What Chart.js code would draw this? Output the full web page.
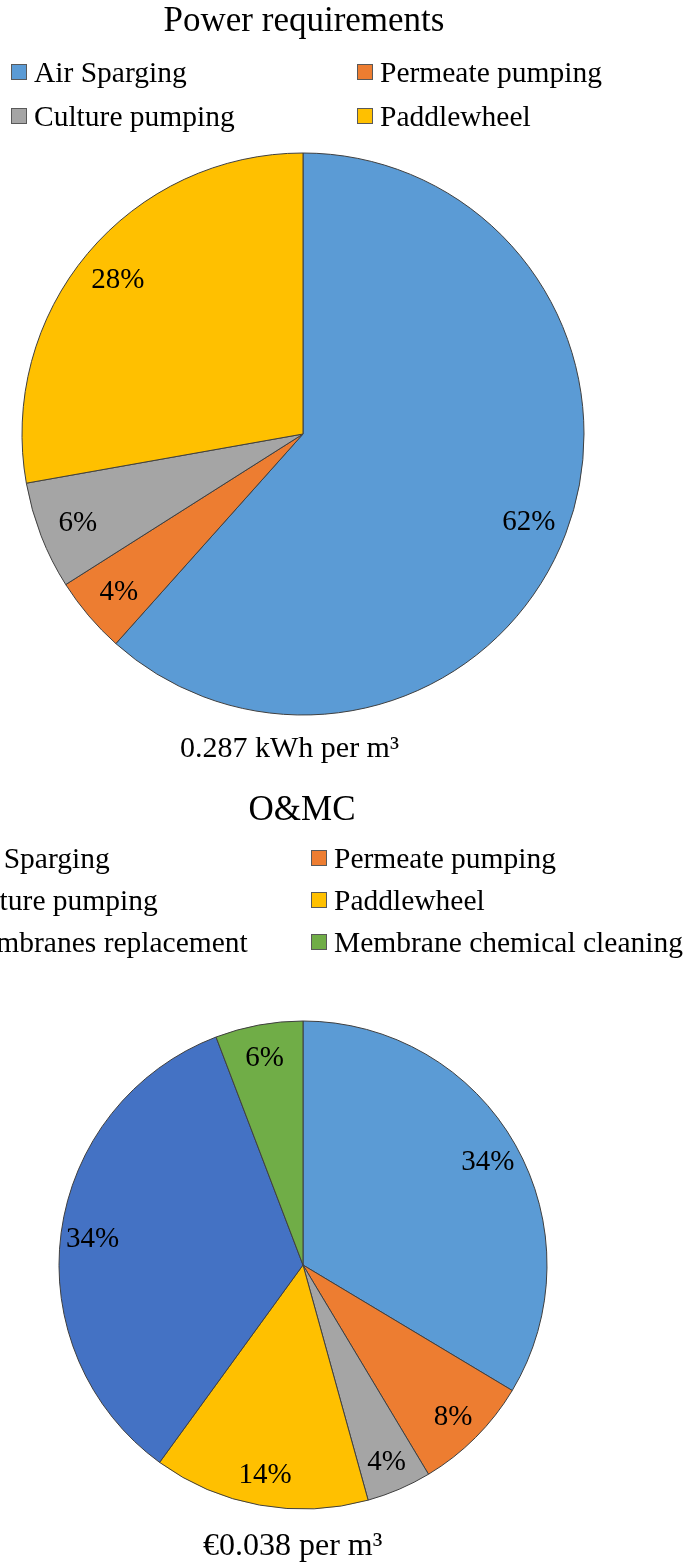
<!DOCTYPE html>
<html><head><meta charset="utf-8">
<script src="https://cdn.jsdelivr.net/npm/chart.js@4"></script>
<style>
html,body{margin:0;padding:0;background:#fff;overflow:hidden;width:693px;height:1565px}
.wrap{position:absolute;left:0;width:693px}
</style></head><body>
<div class="wrap" style="top:0;height:780px"><canvas id="c1" width="693" height="780"></canvas></div>
<div class="wrap" style="top:780px;height:785px"><canvas id="c2" width="693" height="785"></canvas></div>
<script>
// ---- data ----
const powerTitle = 'Power requirements';
const powerSubtitle = '0.287 kWh per m\u00B3';
const powerLabels = ['Air Sparging', 'Permeate pumping', 'Culture pumping', 'Paddlewheel'];
const powerValues = [61.6, 4.4, 6.2, 27.8];
const powerColors = ['#5B9BD5', '#ED7D31', '#A5A5A5', '#FFC000'];

const omcTitle = 'O&MC';
const omcSubtitle = '\u20AC0.038 per m\u00B3';
const omcLabels = ['Air Sparging', 'Permeate pumping', 'Culture pumping', 'Paddlewheel', 'Membranes replacement', 'Membrane chemical cleaning'];
const omcValues = [33.6, 7.8, 4.3, 14.3, 34.2, 5.8];
const omcColors = ['#5B9BD5', '#ED7D31', '#A5A5A5', '#FFC000', '#4472C4', '#70AD47'];

const FONT = '"Liberation Serif", "Times New Roman", serif';

function makeChart(id, labels, values, colors, cfg) {
  const deco = {
    id: 'deco' + id,
    afterDatasetsDraw(chart) {
      const ctx = chart.ctx;
      const meta = chart.getDatasetMeta(0);
      const total = values.reduce((a, b) => a + b, 0);
      ctx.save();
      ctx.fillStyle = '#000';
      ctx.font = cfg.labelSize + 'px ' + FONT;
      ctx.textAlign = 'center';
      ctx.textBaseline = 'middle';
      meta.data.forEach((arc, i) => {
        const p = arc.getProps(['x', 'y', 'startAngle', 'endAngle', 'outerRadius'], true);
        const mid = (p.startAngle + p.endAngle) / 2;
        const r = p.outerRadius * cfg.labelFactor;
        const txt = Math.round(values[i] / total * 100) + '%';
        ctx.fillText(txt, p.x + Math.cos(mid) * r, p.y + Math.sin(mid) * r + 2);
      });
      ctx.restore();
    },
    afterDraw(chart) {
      const ctx = chart.ctx;
      ctx.save();
      ctx.fillStyle = '#000';
      ctx.textBaseline = 'alphabetic';
      // title
      ctx.font = cfg.titleSize + 'px ' + FONT;
      ctx.textAlign = 'center';
      ctx.fillText(cfg.title, cfg.titleX, cfg.titleY);
      // subtitle
      ctx.font = cfg.subSize + 'px ' + FONT;
      ctx.textAlign = 'left';
      ctx.fillText(cfg.subtitle, cfg.subX, cfg.subY);
      // legend (2 columns, row-wise)
      ctx.font = cfg.legendSize + 'px ' + FONT;
      labels.forEach((lab, i) => {
        const col = i % 2, row = Math.floor(i / 2);
        const mx = cfg.legendMarkerX[col];
        const tx = cfg.legendTextX[col];
        const by = cfg.legendY0 + row * cfg.legendDY;
        const ms = cfg.markerSize;
        ctx.fillStyle = colors[i];
        ctx.fillRect(mx, by - 18, ms, ms);
        ctx.strokeStyle = '#595959';
        ctx.lineWidth = 1;
        ctx.strokeRect(mx + 0.5, by - 18 + 0.5, ms - 1, ms - 1);
        ctx.fillStyle = '#000';
        ctx.fillText(lab, tx, by);
      });
      ctx.restore();
    }
  };
  return new Chart(document.getElementById(id), {
    type: 'pie',
    data: {
      labels: labels,
      datasets: [{
        data: values,
        backgroundColor: colors,
        borderColor: '#3F3F3F',
        borderWidth: 1,
        radius: cfg.radius
      }]
    },
    options: {
      responsive: false,
      devicePixelRatio: 1,
      animation: false,
      events: [],
      layout: { padding: cfg.padding },
      plugins: { legend: { display: false }, tooltip: { enabled: false }, title: { display: false } }
    },
    plugins: [deco]
  });
}

makeChart('c1', powerLabels, powerValues, powerColors, {
  title: powerTitle, titleX: 304, titleY: 31, titleSize: 35,
  subtitle: powerSubtitle, subX: 180, subY: 757, subSize: 30,
  legendSize: 29.5, legendMarkerX: [11, 357], legendTextX: [34, 380], legendY0: 82, legendDY: 44, markerSize: 16,
  labelSize: 29, labelFactor: 0.86, radius: 281,
  padding: { left: 0, right: 87, top: 153, bottom: 65 }
});

makeChart('c2', omcLabels, omcValues, omcColors, {
  title: omcTitle, titleX: 302, titleY: 40, titleSize: 35,
  subtitle: omcSubtitle, subX: 203, subY: 775, subSize: 32,
  legendSize: 29.5, legendMarkerX: [-66, 311], legendTextX: [-43, 334], legendY0: 88, legendDY: 42, markerSize: 16,
  labelSize: 29, labelFactor: 0.87, radius: 244,
  padding: { left: 0, right: 87, top: 241, bottom: 56 }
});
</script>
</body></html>
